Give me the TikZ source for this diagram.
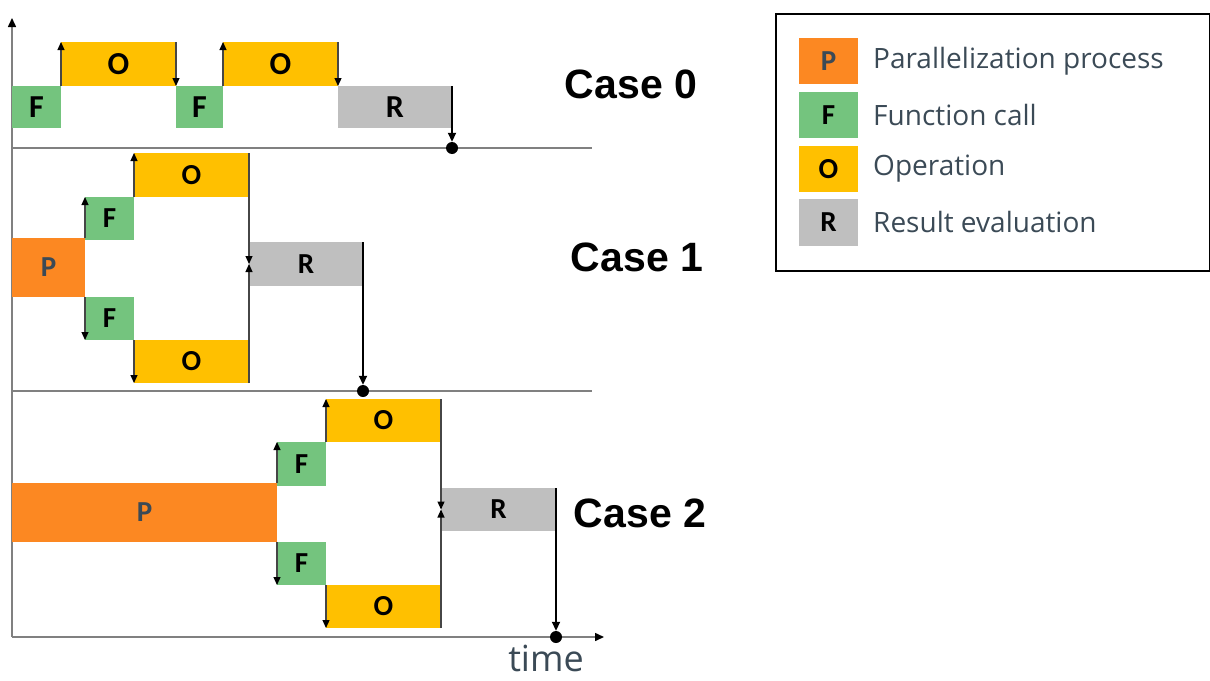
\documentclass[tikz,border=0pt]{standalone}
\usepackage{fontspec}
\setmainfont{Liberation Sans}
\newfontfamily\boxfont{Carlito}
\newfontfamily\legfont{Open Sans}
\usetikzlibrary{arrows.meta}

\definecolor{porange}{RGB}{252,136,34}
\definecolor{fgreen}{RGB}{116,196,126}
\definecolor{oyellow}{RGB}{255,192,0}
\definecolor{rgrey}{RGB}{191,191,191}
\definecolor{slate}{RGB}{59,74,86}
\definecolor{axisgrey}{RGB}{128,128,128}
\definecolor{stepgrey}{RGB}{70,70,70}

% block from (x1,y1) to (x2,y2), coordinates in pixels, y downwards
\newcommand\blk[7]{%
  \node[#2, anchor=north west, minimum width={(#5-#3)*1pt},
        minimum height={(#6-#4)*1pt}] (#1) at (#3,#4) {#7};}

\tikzset{
  blkbase/.style={inner sep=0pt, outer sep=0pt, draw=none,
                  font=\boxfont\bfseries\fontsize{29}{29}\selectfont},
  pblk/.style={blkbase, fill=porange, text=slate},
  fblk/.style={blkbase, fill=fgreen},
  oblk/.style={blkbase, fill=oyellow},
  rblk/.style={blkbase, fill=rgrey},
  bigletters/.style={font=\boxfont\bfseries\fontsize{32}{32}\selectfont},
  baseline/.style={draw=axisgrey, line width=1.5pt},
  axisline/.style={draw=axisgrey, line width=1.5pt,
                   -{Triangle[length=9pt,width=8pt,color=black]}},
  stepline/.style={draw=stepgrey, line width=1.2pt,
                   -{Triangle[length=8pt,width=7pt,color=black]}},
  endline/.style={draw=black, line width=1.8pt,
                  -{Triangle[length=9pt,width=8pt]}},
  enddot/.style={circle, fill=black, inner sep=0pt, minimum size=12pt},
  caselabel/.style={font=\bfseries\fontsize{41}{41}\selectfont},
  legtext/.style={anchor=west, text=slate, inner sep=0pt,
                  font=\legfont\fontsize{28}{28}\selectfont},
}

\begin{document}
\begin{tikzpicture}[x=1pt, y=-1pt]
\useasboundingbox (0,0) rectangle (1210,680);

% ---------- axes and case separators ----------
\coordinate (origin) at (12,637);
\coordinate (ytop)   at (12,18);
\coordinate (xend)   at (604,637);
\coordinate (sepA0)  at (12,148);
\coordinate (sepA1)  at (592,148);
\coordinate (sepB0)  at (12,391);
\coordinate (sepB1)  at (592,391);
\draw[baseline] (sepA0) -- (sepA1);
\draw[baseline] (sepB0) -- (sepB1);
\draw[axisline] (origin) -- (ytop);
\draw[axisline] (origin) -- (xend);

% ---------- Case 0: sequential ----------
\blk{c0f1}{fblk,bigletters}{12}{86}{61}{128}{F}
\blk{c0o1}{oblk,bigletters}{61}{42}{176}{86}{O}
\blk{c0f2}{fblk,bigletters}{176}{86}{223}{128}{F}
\blk{c0o2}{oblk,bigletters}{223}{42}{338}{86}{O}
\blk{c0r}{rblk,bigletters}{338}{86}{452}{128}{R}
\node[enddot] (c0end) at (452,148) {};
\draw[stepline] (c0f1.north east) -- (c0o1.north west);
\draw[stepline] (c0o1.north east) -- (c0f2.north west);
\draw[stepline] (c0f2.north east) -- (c0o2.north west);
\draw[stepline] (c0o2.north east) -- (c0r.north west);
\draw[endline] (c0r.north east) -- (c0end.north);

% ---------- Case 1: short parallelization ----------
\blk{c1p}{pblk}{12}{238}{85}{297}{P}
\blk{c1ft}{fblk}{85}{197}{134}{240}{F}
\blk{c1fb}{fblk}{85}{297}{134}{340}{F}
\blk{c1ot}{oblk}{134}{153}{249}{197}{O}
\blk{c1ob}{oblk}{134}{340}{249}{383}{O}
\blk{c1r}{rblk}{249}{242}{363}{286}{R}
\node[enddot] (c1end) at (363,391) {};
\draw[stepline] (c1p.north east) -- (c1ft.north west);
\draw[stepline] (c1p.south east) -- (c1fb.south west);
\draw[stepline] (c1ft.north east) -- (c1ot.north west);
\draw[stepline] (c1fb.south east) -- (c1ob.south west);
\draw[stepline] (c1ot.north east) -- (c1r.west);
\draw[stepline] (c1ob.south east) -- (c1r.west);
\draw[endline] (c1r.north east) -- (c1end.north);

% ---------- Case 2: long parallelization ----------
\blk{c2p}{pblk}{12}{483}{277}{542}{P}
\blk{c2ft}{fblk}{277}{442}{326}{486}{F}
\blk{c2fb}{fblk}{277}{542}{326}{585}{F}
\blk{c2ot}{oblk}{326}{399}{441}{442}{O}
\blk{c2ob}{oblk}{326}{585}{441}{628}{O}
\blk{c2r}{rblk}{441}{488}{556}{531}{R}
\node[enddot] (c2end) at (556,637) {};
\draw[stepline] (c2p.north east) -- (c2ft.north west);
\draw[stepline] (c2p.south east) -- (c2fb.south west);
\draw[stepline] (c2ft.north east) -- (c2ot.north west);
\draw[stepline] (c2fb.south east) -- (c2ob.south west);
\draw[stepline] (c2ot.north east) -- (c2r.west);
\draw[stepline] (c2ob.south east) -- (c2r.west);
\draw[endline] (c2r.north east) -- (c2end.north);

% ---------- labels ----------
\node[caselabel] (case0) at (631,84) {Case 0};
\node[caselabel] (case1) at (637,257) {Case 1};
\node[caselabel] (case2) at (640,513) {Case 2};
\node[text=slate, anchor=base, inner sep=0pt,
      font=\legfont\fontsize{36}{36}\selectfont] (timelbl) at (546,671) {time};

% ---------- legend ----------
\node[draw=black, line width=2pt, inner sep=0pt, anchor=north west,
      minimum width=434pt, minimum height=257pt] (legend) at (775,13) {};
\blk{lp}{pblk}{799}{38}{858}{84}{P}
\blk{lf}{fblk}{799}{92}{858}{138}{F}
\blk{lo}{oblk}{799}{146}{858}{192}{O}
\blk{lr}{rblk}{799}{199}{858}{246}{R}
\node[legtext] (tp) at (873,61) {Parallelization process};
\node[legtext] (tf) at (873,115) {Function call};
\node[legtext] (to) at (873,169) {Operation};
\node[legtext] (tr) at (873,222) {Result evaluation};
\end{tikzpicture}
\end{document}
